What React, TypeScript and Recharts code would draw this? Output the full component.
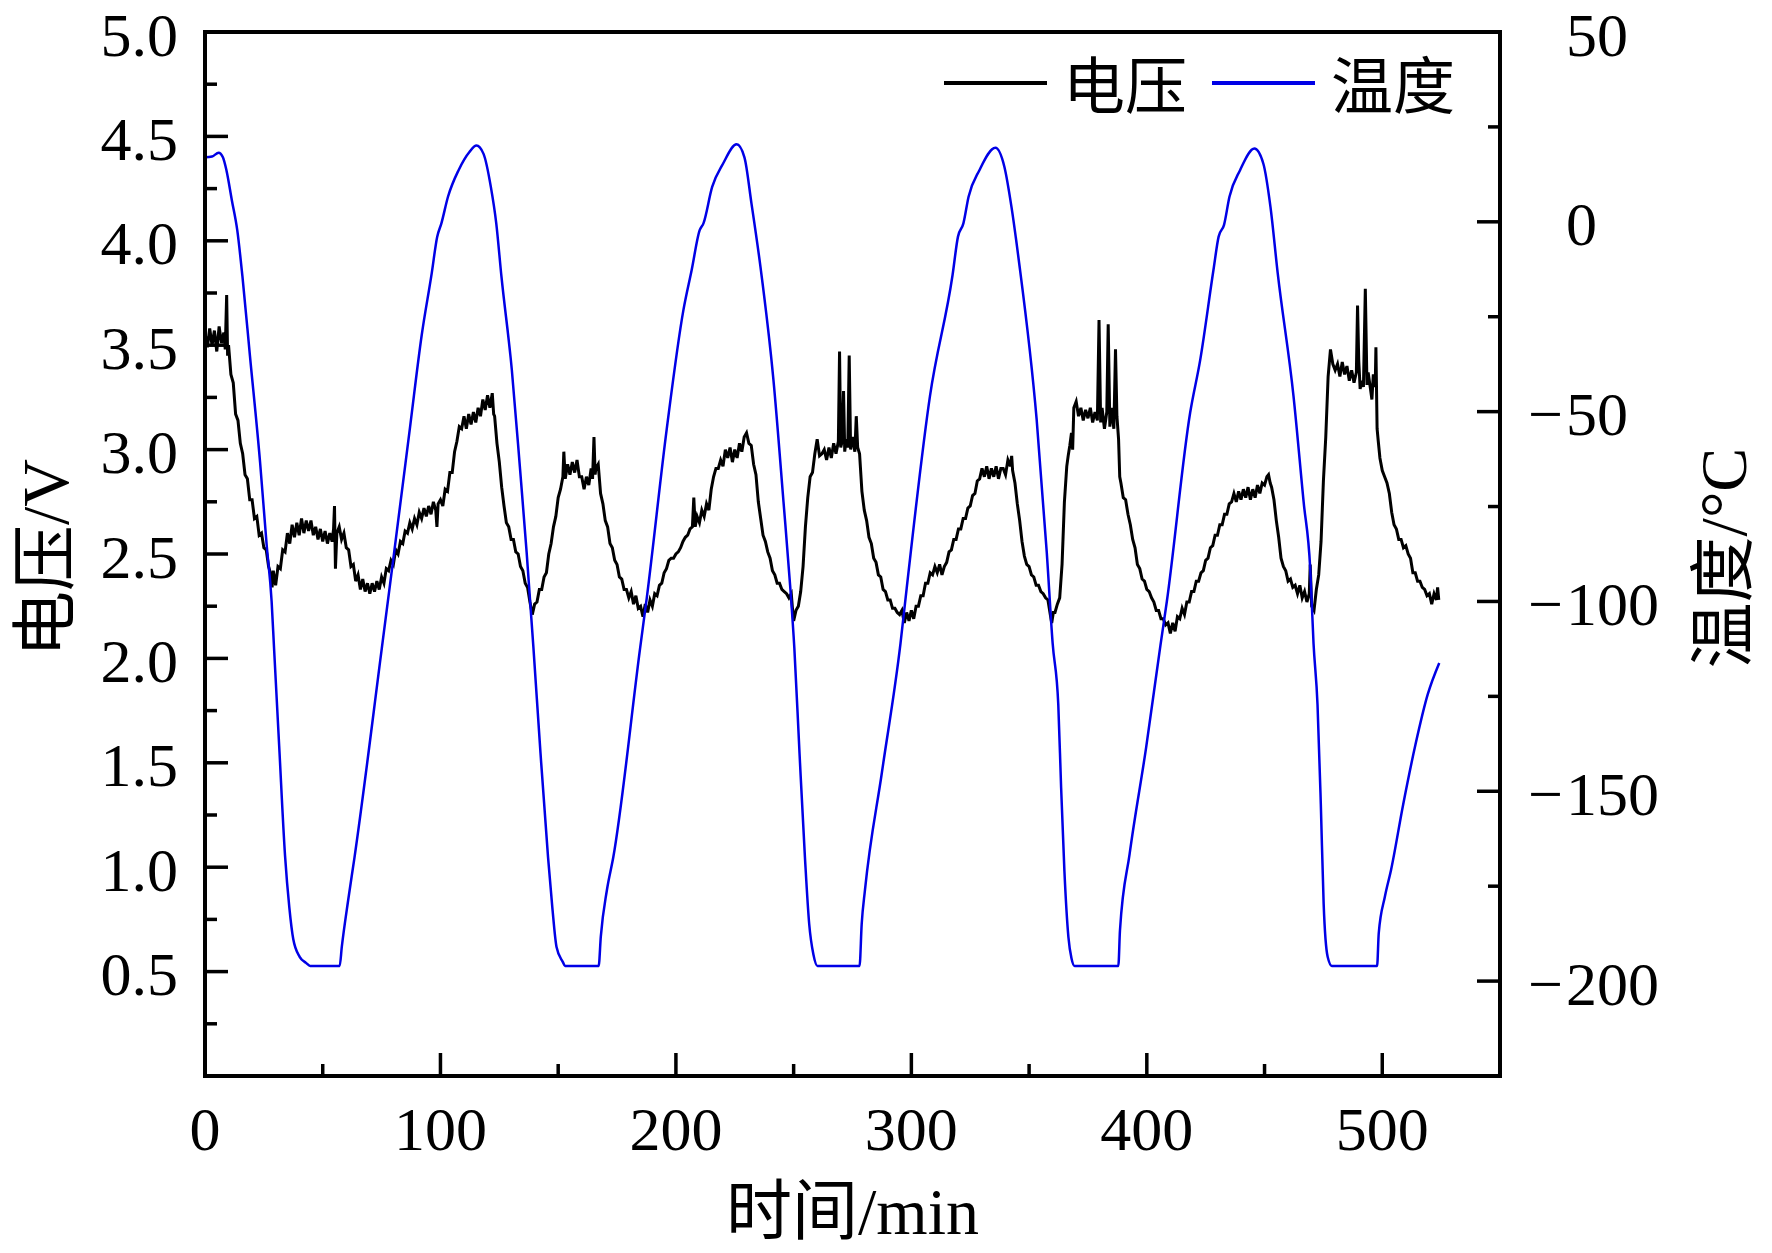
import { LineChart, Line, XAxis, YAxis, Legend, ReferenceLine } from "recharts";

const SERIF = '"Liberation Serif", "Times New Roman", "Noto Sans CJK SC", serif';
const FONT = 62;
const TITLE_FONT = 66;

// axis ticks (minor + major) and the ones that carry a label
const timeTicks = [0, 50, 100, 150, 200, 250, 300, 350, 400, 450, 500];
const timeLabels = [0, 100, 200, 300, 400, 500];
const voltageTicks = [0.25, 0.5, 0.75, 1.0, 1.25, 1.5, 1.75, 2.0, 2.25, 2.5, 2.75, 3.0, 3.25, 3.5, 3.75, 4.0, 4.25, 4.5, 4.75, 5.0];
const voltageLabels = [0.5, 1.0, 1.5, 2.0, 2.5, 3.0, 3.5, 4.0, 4.5, 5.0];
const tempTicks = [-200, -175, -150, -125, -100, -75, -50, -25, 0, 25, 50];
const tempLabels = [-200, -150, -100, -50, 0, 50];

const series = [
  { name: "电压", color: "#000000" },
  { name: "温度", color: "#0000e6" },
];

// [time/min, voltage/V]
const voltageReadings: [number, number][] = [
  [0, 3.56], [1, 3.49], [2, 3.58], [3, 3.5], [4, 3.57], [5, 3.47], [6, 3.59], [7, 3.51], [8, 3.56], [8.6, 3.48],
  [9.2, 3.74], [9.6, 3.45], [10, 3.5], [11, 3.36], [12, 3.32], [13, 3.17], [14, 3.14], [15, 3.03], [16, 2.98], [17, 2.88],
  [18, 2.86], [19, 2.76], [20, 2.76], [21, 2.67], [22, 2.68], [23, 2.59], [24, 2.6], [25, 2.53], [26, 2.52], [27, 2.44],
  [28, 2.4], [28.5, 2.34], [29, 2.42], [30, 2.35], [31, 2.44], [32, 2.43], [33, 2.52], [34, 2.51], [35, 2.6], [36, 2.55],
  [37, 2.64], [38, 2.58], [39, 2.65], [40, 2.59], [41, 2.67], [42, 2.6], [43, 2.66], [44, 2.61], [45, 2.66], [46, 2.59],
  [47, 2.63], [48, 2.57], [49, 2.62], [50, 2.56], [51, 2.61], [52, 2.55], [53, 2.6], [54, 2.56], [54.6, 2.62], [55, 2.73],
  [55.4, 2.43], [56, 2.6], [57, 2.63], [58, 2.57], [59, 2.6], [60, 2.53], [61, 2.52], [62, 2.44], [63, 2.45], [64, 2.37],
  [65, 2.4], [66, 2.33], [67, 2.38], [68, 2.32], [69, 2.36], [70, 2.31], [71, 2.36], [72, 2.32], [73, 2.37], [74, 2.33],
  [75, 2.39], [76, 2.36], [77, 2.43], [78, 2.42], [79, 2.47], [80, 2.45], [81, 2.52], [82, 2.5], [83, 2.56], [84, 2.55],
  [85, 2.61], [86, 2.6], [87, 2.65], [88, 2.62], [89, 2.67], [90, 2.64], [91, 2.7], [92, 2.67], [93, 2.72], [94, 2.68],
  [95, 2.73], [96, 2.69], [97, 2.75], [98, 2.71], [98.5, 2.63], [99, 2.74], [100, 2.76], [101, 2.73], [102, 2.81], [103, 2.8],
  [104, 2.89], [105, 2.89], [106, 2.99], [107, 3.04], [108, 3.11], [109, 3.1], [110, 3.16], [111, 3.1], [112, 3.17], [113, 3.12],
  [114, 3.18], [115, 3.13], [116, 3.2], [117, 3.16], [118, 3.24], [119, 3.19], [120, 3.26], [121, 3.2], [122, 3.27], [122.6, 3.17],
  [123, 3.16], [124, 3.03], [125, 2.94], [126, 2.82], [127, 2.73], [128, 2.65], [129, 2.63], [130, 2.57], [131, 2.57], [132, 2.51],
  [133, 2.5], [134, 2.44], [135, 2.42], [136, 2.36], [137, 2.34], [138, 2.27], [139, 2.21], [140, 2.26], [141, 2.27], [142, 2.33],
  [143, 2.33], [144, 2.39], [145, 2.41], [146, 2.5], [147, 2.55], [148, 2.63], [149, 2.68], [150, 2.77], [151, 2.81], [152, 2.87],
  [152.4, 2.99], [153, 2.86], [154, 2.93], [155, 2.88], [156, 2.94], [157, 2.89], [158, 2.95], [159, 2.87], [160, 2.87], [161, 2.81],
  [162, 2.87], [163, 2.83], [164, 2.91], [164.6, 2.86], [165.2, 3.06], [165.7, 2.88], [166, 2.91], [167, 2.93], [168, 2.79], [169, 2.74],
  [170, 2.66], [171, 2.63], [172, 2.55], [173, 2.53], [174, 2.47], [175, 2.45], [176, 2.39], [177, 2.38], [178, 2.33], [179, 2.33],
  [180, 2.29], [181, 2.32], [182, 2.26], [183, 2.3], [184, 2.24], [185, 2.25], [186, 2.2], [187, 2.26], [188, 2.22], [189, 2.28],
  [190, 2.25], [191, 2.31], [192, 2.3], [193, 2.35], [194, 2.36], [195, 2.41], [196, 2.43], [197, 2.47], [198, 2.48], [199, 2.48],
  [200, 2.5], [201, 2.51], [202, 2.53], [203, 2.56], [204, 2.58], [205, 2.59], [206, 2.62], [207, 2.63], [207.6, 2.77], [208.2, 2.63],
  [209, 2.68], [210, 2.65], [211, 2.71], [212, 2.68], [213, 2.74], [214, 2.71], [215, 2.81], [216, 2.87], [217, 2.91], [218, 2.91],
  [219, 2.95], [220, 2.92], [221, 3.0], [222, 2.96], [223, 3.01], [224, 2.94], [225, 3.0], [226, 2.96], [227, 3.03], [228, 2.99],
  [229, 3.06], [230, 3.08], [231, 3.03], [232, 3.02], [233, 2.93], [234, 2.88], [235, 2.75], [236, 2.67], [237, 2.59], [238, 2.56],
  [239, 2.51], [240, 2.48], [241, 2.42], [242, 2.4], [243, 2.36], [244, 2.36], [245, 2.33], [246, 2.32], [247, 2.31], [248, 2.29],
  [249, 2.31], [249.5, 2.24], [250, 2.18], [251, 2.23], [252, 2.25], [253, 2.32], [254, 2.44], [255, 2.63], [256, 2.77], [257, 2.87],
  [258, 2.89], [259, 2.98], [260, 3.05], [261, 2.97], [262, 2.98], [263, 3.0], [264, 2.95], [265, 3.01], [266, 2.96], [267, 3.03],
  [268, 2.98], [269, 3.04], [269.5, 3.47], [270, 3.01], [270.6, 3.04], [271.2, 3.28], [271.7, 2.99], [272.3, 3.05], [273, 3.01], [273.6, 3.45],
  [274.2, 3.0], [275, 3.06], [276, 2.99], [276.6, 3.16], [277.2, 3.01], [278, 2.98], [279, 2.8], [280, 2.71], [281, 2.66], [282, 2.58],
  [283, 2.55], [284, 2.48], [285, 2.46], [286, 2.4], [287, 2.39], [288, 2.33], [289, 2.32], [290, 2.28], [291, 2.28], [292, 2.24],
  [293, 2.24], [294, 2.22], [295, 2.21], [296, 2.23], [297, 2.17], [298, 2.22], [299, 2.18], [300, 2.23], [301, 2.19], [302, 2.25],
  [303, 2.25], [304, 2.3], [305, 2.3], [306, 2.36], [307, 2.36], [308, 2.41], [309, 2.4], [310, 2.44], [311, 2.41], [312, 2.45],
  [313, 2.4], [314, 2.44], [315, 2.46], [316, 2.51], [317, 2.52], [318, 2.57], [319, 2.57], [320, 2.62], [321, 2.62], [322, 2.67],
  [323, 2.67], [324, 2.72], [325, 2.73], [326, 2.78], [327, 2.79], [328, 2.85], [329, 2.86], [330, 2.91], [331, 2.87], [332, 2.92],
  [333, 2.86], [334, 2.91], [335, 2.87], [336, 2.92], [337, 2.86], [338, 2.91], [339, 2.91], [340, 2.88], [341, 2.95], [342, 2.92],
  [342.6, 2.97], [343, 2.9], [344, 2.84], [345, 2.74], [346, 2.66], [347, 2.56], [348, 2.49], [349, 2.45], [350, 2.44], [351, 2.4],
  [352, 2.39], [353, 2.35], [354, 2.35], [355, 2.32], [356, 2.31], [357, 2.29], [358, 2.28], [359, 2.21], [359.6, 2.17], [360.3, 2.22],
  [361, 2.22], [362, 2.26], [363, 2.29], [364, 2.45], [365, 2.75], [366, 2.92], [366.6, 2.97], [367.3, 3.02], [368, 3.08], [368.5, 3.0],
  [369, 3.2], [370, 3.23], [371, 3.16], [372, 3.2], [373, 3.14], [374, 3.19], [375, 3.15], [376, 3.2], [377, 3.13], [378, 3.18],
  [379, 3.14], [379.7, 3.62], [380.4, 3.13], [381, 3.2], [382, 3.1], [383, 3.18], [383.6, 3.6], [384.3, 3.11], [385, 3.2], [386, 3.1],
  [386.7, 3.48], [387.3, 3.16], [388, 3.05], [388.5, 2.87], [389, 2.84], [390, 2.77], [391, 2.76], [392, 2.69], [393, 2.64], [394, 2.57],
  [395, 2.53], [396, 2.45], [397, 2.43], [398, 2.38], [399, 2.37], [400, 2.33], [401, 2.32], [402, 2.29], [403, 2.27], [404, 2.23],
  [405, 2.23], [406, 2.19], [407, 2.19], [408, 2.16], [409, 2.17], [410, 2.12], [411, 2.17], [412, 2.13], [413, 2.2], [414, 2.19],
  [415, 2.24], [416, 2.21], [417, 2.27], [418, 2.27], [419, 2.32], [420, 2.32], [421, 2.37], [422, 2.37], [423, 2.41], [424, 2.42],
  [425, 2.47], [426, 2.48], [427, 2.53], [428, 2.54], [429, 2.59], [430, 2.59], [431, 2.64], [432, 2.64], [433, 2.69], [434, 2.69],
  [435, 2.74], [436, 2.75], [437, 2.79], [438, 2.75], [439, 2.8], [440, 2.76], [441, 2.81], [442, 2.77], [443, 2.82], [444, 2.76],
  [445, 2.81], [446, 2.77], [447, 2.83], [448, 2.79], [449, 2.84], [450, 2.83], [451, 2.87], [451.7, 2.88], [452.4, 2.84], [453, 2.82],
  [454, 2.76], [455, 2.66], [456, 2.58], [457, 2.48], [458, 2.44], [459, 2.42], [460, 2.37], [461, 2.38], [462, 2.34], [463, 2.35],
  [464, 2.31], [465, 2.35], [466, 2.29], [467, 2.32], [468, 2.27], [469, 2.31], [469.4, 2.45], [470, 2.25], [471, 2.23], [472, 2.33],
  [473, 2.4], [474, 2.56], [475, 2.85], [476, 3.06], [477, 3.35], [478, 3.48], [479, 3.41], [480, 3.38], [481, 3.41], [482, 3.35],
  [483, 3.42], [484, 3.36], [485, 3.4], [486, 3.33], [487, 3.38], [488, 3.32], [489, 3.37], [489.5, 3.69], [490, 3.43], [490.6, 3.29],
  [491.3, 3.33], [492, 3.3], [492.8, 3.77], [493.5, 3.31], [494, 3.37], [495, 3.29], [495.6, 3.24], [496.2, 3.36], [497, 3.3], [497.3, 3.49],
  [497.8, 3.1], [498.3, 3.04], [499, 2.96], [500, 2.9], [501, 2.87], [502, 2.84], [503, 2.79], [504, 2.7], [505, 2.64], [506, 2.62],
  [507, 2.57], [508, 2.57], [509, 2.53], [510, 2.54], [511, 2.5], [512, 2.48], [513, 2.41], [514, 2.41], [515, 2.37], [516, 2.37],
  [517, 2.34], [518, 2.33], [519, 2.3], [520, 2.31], [521, 2.26], [522, 2.31], [523, 2.28], [523.5, 2.34], [524, 2.28],
];

// [time/min, temperature/°C]
const temperatureReadings: [number, number][] = [
  [0, 17.0], [3, 17.2], [5.8, 18.2], [7.6, 17.0], [9.1, 13.6], [11.4, 5.7], [13.7, -2.2], [15.9, -14.4], [19.1, -35.4], [23.4, -63.4],
  [26.2, -85.2], [28.3, -100], [29.3, -112], [31.5, -138], [34, -167], [35.8, -180.5], [37.5, -189], [40.2, -193.6], [42.9, -195.2], [44.7, -196],
  [57.2, -196], [58.1, -191], [60.8, -178.7], [63.5, -167.4], [75.1, -112.3], [80, -88.7], [87.1, -54], [92, -30], [96.3, -13.5], [98.6, -4],
  [100.4, -0.4], [103.2, 6.6], [107.7, 13.6], [112.3, 18.4], [115.3, 20.1], [118.3, 17.9], [121.4, 9.2], [123.7, -0.4], [125.9, -14.4], [130.3, -38.9],
  [133.8, -65.1], [136.6, -87], [139.5, -112.3], [142.5, -140], [145.7, -167.4], [147.5, -180.5], [149.3, -191], [152, -195], [152.9, -196], [167.2, -196],
  [168.1, -188.3], [170.7, -176], [173.4, -167.4], [184.8, -112.3], [187.6, -99.2], [196.1, -54.6], [203.2, -23.2], [206.7, -12.7], [210.1, -2.2], [211.7, -0.4],
  [215.4, 9.2], [220, 15.3], [225.8, 20.4], [229.1, 17], [232.1, 4.8], [235.9, -11.8], [241.4, -41.5], [245.7, -73.8], [248.5, -95.7], [250.3, -112.3],
  [252.5, -140], [254.8, -167.4], [256.6, -184.9], [258.4, -193], [260.1, -196], [278, -196], [278.9, -185], [280.3, -176], [287.5, -145], [295.4, -111],
  [298, -96.6], [307.9, -45.9], [317.5, -14], [319.8, -3.9], [322.1, -0.4], [324.3, 6.6], [328.9, 13.6], [335.7, 19.5], [339.5, 14.5], [342.5, 4.0],
  [345.6, -10.0], [353.2, -52], [357.5, -87], [360, -111], [362.4, -127.2], [363.6, -149], [365, -171], [366.7, -188.4], [368, -194], [369.3, -196],
  [387.9, -196], [388.6, -186.6], [392.7, -166.5], [399.7, -138.5], [405.8, -111.5], [408.5, -100], [418.4, -50.3], [422.7, -36.3], [428.3, -12.7], [430.5, -3.9],
  [432.8, -0.8], [435.1, 6.6], [439.6, 13.6], [445.7, 19.3], [449.5, 15.3], [452.5, 4.0], [455.6, -13.6], [462.3, -45.9], [466.6, -73.8], [469.4, -91.3],
  [470.8, -111], [472.5, -127.2], [473.9, -153.4], [475.1, -179.6], [476.8, -193.6], [478.6, -196], [497.8, -196], [498.5, -187.4], [501.1, -177.8], [503.7, -170.8],
  [508.9, -153.4], [514.1, -137.7], [519.3, -124.5], [524.2, -116.2],
];

const voltageData = voltageReadings.map(([t, v]) => ({ t, v }));
const temperatureData = temperatureReadings.map(([t, T]) => ({ t, T }));

const textProps = { fontSize: FONT, fontFamily: SERIF, fill: "#000" };

function LeftTick({ x, y, payload }: any) {
  const v = payload.value;
  const major = voltageLabels.includes(v);
  return (
    <g>
      <line x1={x} x2={x + (major ? 23 : 12)} y1={y} y2={y} stroke="#000" strokeWidth={3.5} />
      {major && (
        <text x={x - 27} y={y + 23.5} textAnchor="end" {...textProps}>
          {v.toFixed(1)}
        </text>
      )}
    </g>
  );
}

function RightTick({ x, y, payload }: any) {
  const v = payload.value;
  const major = tempLabels.includes(v);
  return (
    <g>
      <line x1={x} x2={x - (major ? 23 : 12)} y1={y} y2={y} stroke="#000" strokeWidth={3.5} />
      {major && v < 0 && (
        <text x={x + 63} y={y + 23.5} textAnchor="end" {...textProps}>
          −
        </text>
      )}
      {major && (
        <text x={x + 66} y={y + 23.5} textAnchor="start" {...textProps}>
          {Math.abs(v)}
        </text>
      )}
    </g>
  );
}

function BottomTick({ x, y, payload }: any) {
  const v = payload.value;
  const major = timeLabels.includes(v);
  return (
    <g>
      <line x1={x} x2={x} y1={y} y2={y - (major ? 23 : 12)} stroke="#000" strokeWidth={3.5} />
      {major && (
        <text x={x} y={y + 74} textAnchor="middle" {...textProps}>
          {v}
        </text>
      )}
    </g>
  );
}

function AxisTitle({ viewBox, text, side }: any) {
  if (!viewBox) return null;
  const { x, y, width, height } = viewBox;
  const common = { fontSize: TITLE_FONT, fontFamily: SERIF, fill: "#000", textAnchor: "middle" as const };
  if (side === "bottom") {
    return (
      <text x={x + width / 2} y={y + 158} {...common}>
        {text}
      </text>
    );
  }
  const cx = side === "left" ? x + 68 : x + 246;
  const cy = y + height / 2 + 4;
  return (
    <text x={cx} y={cy} transform={`rotate(-90, ${cx}, ${cy})`} {...common}>
      {text}
    </text>
  );
}

function LegendBox() {
  return (
    <svg width={560} height={90}>
      {series.map((s, i) => {
        const x0 = 14 + i * 268;
        return (
          <g key={s.name}>
            <line x1={x0} x2={x0 + 103} y1={43} y2={43} stroke={s.color} strokeWidth={4} />
            <text x={x0 + 119} y={69} {...textProps}>
              {s.name}
            </text>
          </g>
        );
      })}
    </svg>
  );
}

const axisLine = { stroke: "#000", strokeWidth: 4, strokeLinecap: "square" as const };

export default function App() {
  return (
    <div style={{ position: "absolute", left: 0, top: 0, width: 1772, height: 1253, background: "#fff" }}>
      <LineChart width={1772} height={1253} margin={{ top: 32, right: 0, bottom: 0, left: 0 }}>
        <XAxis
          dataKey="t"
          type="number"
          domain={[0, 550]}
          allowDataOverflow
          ticks={timeTicks}
          interval={0}
          height={177}
          tickSize={0}
          tickMargin={0}
          tickLine={false}
          axisLine={axisLine}
          tick={BottomTick}
          label={<AxisTitle text="时间/min" side="bottom" />}
        />
        <YAxis
          yAxisId="v"
          orientation="left"
          type="number"
          domain={[0, 5]}
          allowDataOverflow
          ticks={voltageTicks}
          interval={0}
          width={205}
          tickSize={0}
          tickMargin={0}
          tickLine={false}
          axisLine={axisLine}
          tick={LeftTick}
          label={<AxisTitle text="电压/V" side="left" />}
        />
        <YAxis
          yAxisId="T"
          orientation="right"
          type="number"
          domain={[-225, 50]}
          allowDataOverflow
          ticks={tempTicks}
          interval={0}
          width={272}
          tickSize={0}
          tickMargin={0}
          tickLine={false}
          axisLine={axisLine}
          tick={RightTick}
          label={<AxisTitle text="温度/°C" side="right" />}
        />
        {/* top border of the frame */}
        <ReferenceLine yAxisId="v" y={5} stroke="#000" strokeWidth={4} />
        <Legend
          verticalAlign="middle"
          align="center"
          layout="horizontal"
          wrapperStyle={{ position: "absolute", left: 930, top: 40, width: 560, height: 90 }}
          content={() => <LegendBox />}
        />
        <Line
          yAxisId="v"
          data={voltageData}
          dataKey="v"
          name="电压"
          type="linear"
          stroke={series[0].color}
          strokeWidth={3}
          dot={false}
          isAnimationActive={false}
        />
        <Line
          yAxisId="T"
          data={temperatureData}
          dataKey="T"
          name="温度"
          type="monotone"
          stroke={series[1].color}
          strokeWidth={2.5}
          dot={false}
          isAnimationActive={false}
        />
      </LineChart>
    </div>
  );
}
